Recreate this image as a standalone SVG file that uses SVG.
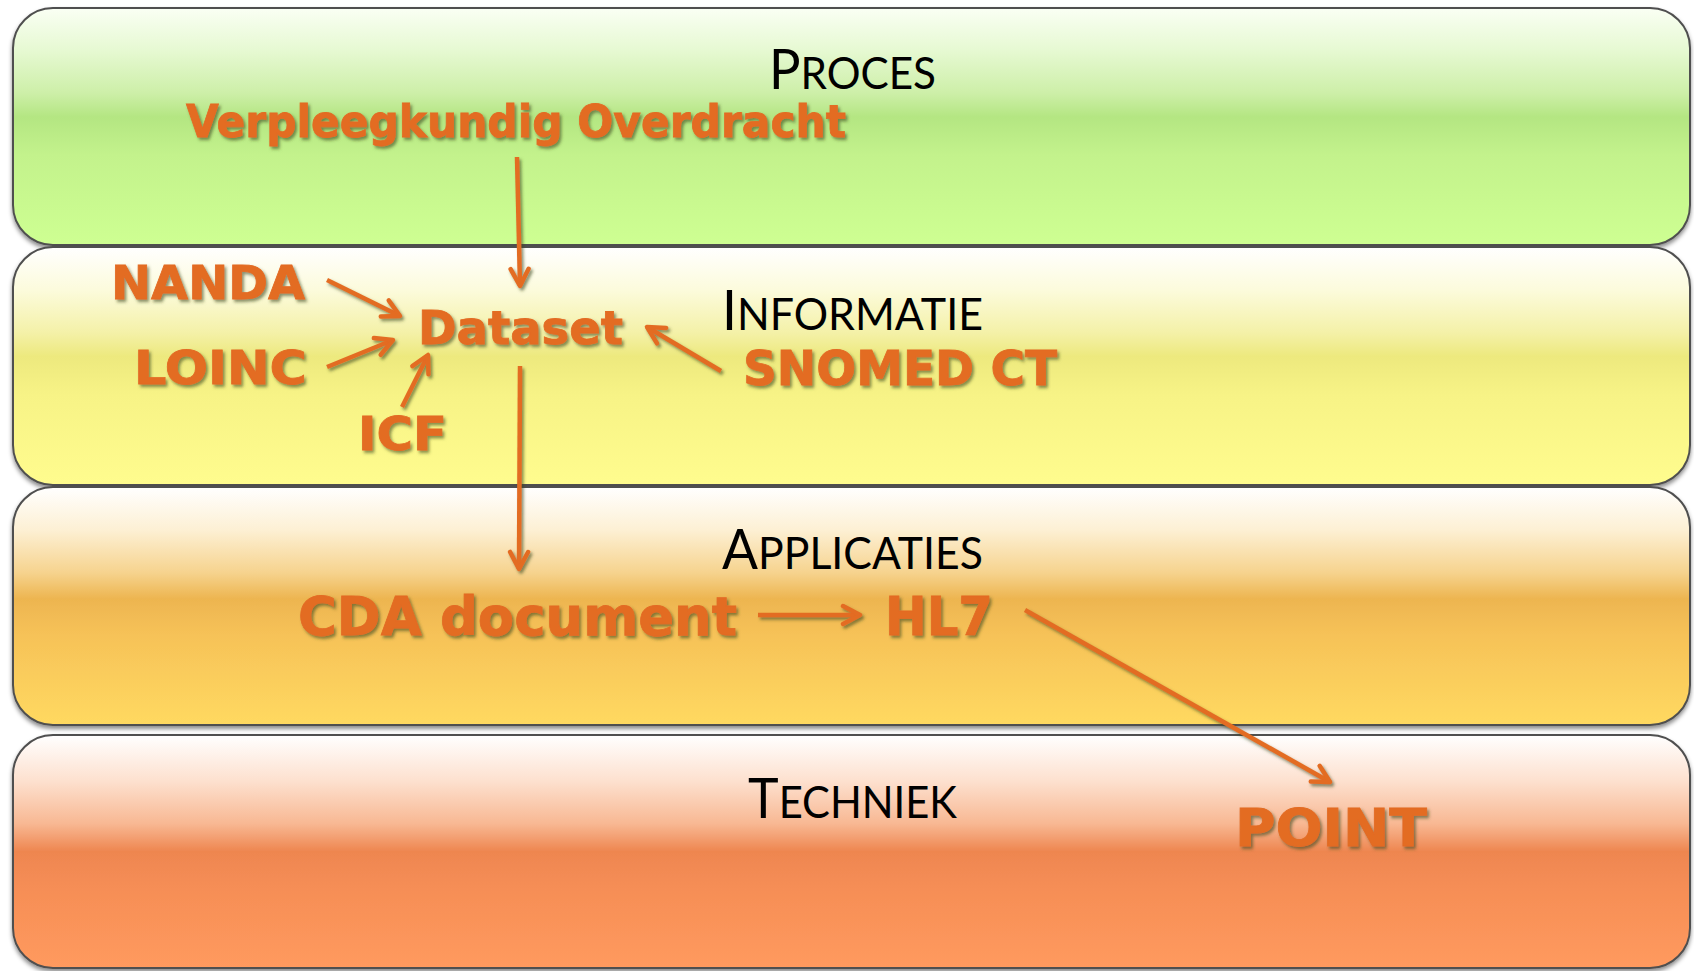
<svg xmlns="http://www.w3.org/2000/svg" width="1694" height="971" viewBox="0 0 1694 971">
  <defs>
    <linearGradient id="gGreen" x1="0" y1="0" x2="0" y2="1">
      <stop offset="0" stop-color="#FAFFF4"/>
      <stop offset="0.18" stop-color="#E6F9D2"/>
      <stop offset="0.36" stop-color="#CDEFA8"/>
      <stop offset="0.46" stop-color="#B4E682"/>
      <stop offset="0.62" stop-color="#C3F28C"/>
      <stop offset="1" stop-color="#CEFF92"/>
    </linearGradient>
    <linearGradient id="gYellow" x1="0" y1="0" x2="0" y2="1">
      <stop offset="0" stop-color="#FFFFFF"/>
      <stop offset="0.18" stop-color="#FCFBDC"/>
      <stop offset="0.36" stop-color="#F4F1A8"/>
      <stop offset="0.46" stop-color="#EDE97E"/>
      <stop offset="0.62" stop-color="#F7F386"/>
      <stop offset="1" stop-color="#FFFC8E"/>
    </linearGradient>
    <linearGradient id="gGold" x1="0" y1="0" x2="0" y2="1">
      <stop offset="0" stop-color="#FFFFFF"/>
      <stop offset="0.18" stop-color="#FDF0D4"/>
      <stop offset="0.36" stop-color="#F6D38E"/>
      <stop offset="0.47" stop-color="#EDB550"/>
      <stop offset="0.62" stop-color="#F6C258"/>
      <stop offset="1" stop-color="#FFD960"/>
    </linearGradient>
    <linearGradient id="gOrange" x1="0" y1="0" x2="0" y2="1">
      <stop offset="0" stop-color="#FFFFFF"/>
      <stop offset="0.2" stop-color="#FDE0CE"/>
      <stop offset="0.38" stop-color="#F8B893"/>
      <stop offset="0.5" stop-color="#EE8650"/>
      <stop offset="0.66" stop-color="#F68E56"/>
      <stop offset="1" stop-color="#FF9A5E"/>
    </linearGradient>
    <filter id="bandShadow" x="-2%" y="-5%" width="104%" height="115%">
      <feDropShadow dx="0" dy="3" stdDeviation="2" flood-color="#000" flood-opacity="0.45"/>
    </filter>
    <filter id="txtShadow" x="-5%" y="-20%" width="110%" height="150%">
      <feDropShadow dx="2" dy="2.5" stdDeviation="1.5" flood-color="#3C4A1E" flood-opacity="0.6"/>
    </filter>
    <marker id="arrow" viewBox="0 0 24 24" refX="21" refY="12" markerWidth="24" markerHeight="24" markerUnits="userSpaceOnUse" orient="auto">
      <path d="M4,3 L21,12 L4,21" fill="none" stroke="#E36C24" stroke-width="4.5" stroke-linecap="round" stroke-linejoin="round"/>
    </marker>
    <style>
      .band { stroke: #4F4F4F; stroke-width: 2; filter: url(#bandShadow); }
      .layer { font-family: Lato, "Open Sans", "Liberation Sans", sans-serif; fill: #000; }
      .big { font-size: 56px; }
      .sm { font-size: 45px; }
      .term { font-family: "DejaVu Sans", Verdana, "Liberation Sans", sans-serif; font-weight: bold; fill: #E36C24; stroke: #E36C24; stroke-width: 0.8; filter: url(#txtShadow); }
      .conn { fill: none; stroke: #E36C24; stroke-width: 4.5; marker-end: url(#arrow); }
    </style>
  </defs>

  <g id="band-proces">
    <rect class="band" x="13" y="8" width="1677" height="237" rx="40" ry="40" fill="url(#gGreen)"/>
    <text class="layer" x="769" y="89" textLength="167" lengthAdjust="spacingAndGlyphs"><tspan class="big">P</tspan><tspan class="sm">ROCES</tspan></text>
  </g>
  <g id="band-informatie">
    <rect class="band" x="13" y="247" width="1677" height="238" rx="40" ry="40" fill="url(#gYellow)"/>
    <text class="layer" x="722" y="330" textLength="261" lengthAdjust="spacingAndGlyphs"><tspan class="big">I</tspan><tspan class="sm">NFORMATIE</tspan></text>
  </g>
  <g id="band-applicaties">
    <rect class="band" x="13" y="487" width="1677" height="238" rx="40" ry="40" fill="url(#gGold)"/>
    <text class="layer" x="722" y="569" textLength="261" lengthAdjust="spacingAndGlyphs"><tspan class="big">A</tspan><tspan class="sm">PPLICATIES</tspan></text>
  </g>
  <g id="band-techniek">
    <rect class="band" x="13" y="735" width="1677" height="233" rx="40" ry="40" fill="url(#gOrange)"/>
    <text class="layer" x="748" y="818" textLength="209" lengthAdjust="spacingAndGlyphs"><tspan class="big">T</tspan><tspan class="sm">ECHNIEK</tspan></text>
  </g>

  <g id="node-verpleegkundig"><text class="term" x="186" y="137" font-size="44" textLength="660" lengthAdjust="spacingAndGlyphs">Verpleegkundig Overdracht</text></g>
  <g id="node-nanda"><text class="term" x="111" y="299" font-size="47" textLength="194" lengthAdjust="spacingAndGlyphs">NANDA</text></g>
  <g id="node-loinc"><text class="term" x="134" y="384" font-size="47" textLength="173" lengthAdjust="spacingAndGlyphs">LOINC</text></g>
  <g id="node-icf"><text class="term" x="358" y="450" font-size="46" textLength="89" lengthAdjust="spacingAndGlyphs">ICF</text></g>
  <g id="node-dataset"><text class="term" x="418" y="344" font-size="46" textLength="205" lengthAdjust="spacingAndGlyphs">Dataset</text></g>
  <g id="node-snomed"><text class="term" x="743" y="385" font-size="48" textLength="314" lengthAdjust="spacingAndGlyphs">SNOMED CT</text></g>
  <g id="node-cda"><text class="term" x="298" y="635" font-size="53" textLength="439" lengthAdjust="spacingAndGlyphs">CDA document</text></g>
  <g id="node-hl7"><text class="term" x="885" y="635" font-size="53" textLength="108" lengthAdjust="spacingAndGlyphs">HL7</text></g>
  <g id="node-point"><text class="term" x="1235" y="846" font-size="51" textLength="192" lengthAdjust="spacingAndGlyphs">POINT</text></g>

  <g id="connectors" filter="url(#txtShadow)">
    <line class="conn" x1="517" y1="157" x2="520" y2="286"/>
    <line class="conn" x1="327" y1="280" x2="400" y2="316"/>
    <line class="conn" x1="327" y1="367" x2="393" y2="340"/>
    <line class="conn" x1="402" y1="407" x2="428" y2="355"/>
    <line class="conn" x1="721" y1="371" x2="647" y2="327"/>
    <line class="conn" x1="520" y1="366" x2="519" y2="569"/>
    <line class="conn" x1="758" y1="615" x2="860" y2="615"/>
    <line class="conn" x1="1025" y1="610" x2="1330" y2="782"/>
  </g>
</svg>
